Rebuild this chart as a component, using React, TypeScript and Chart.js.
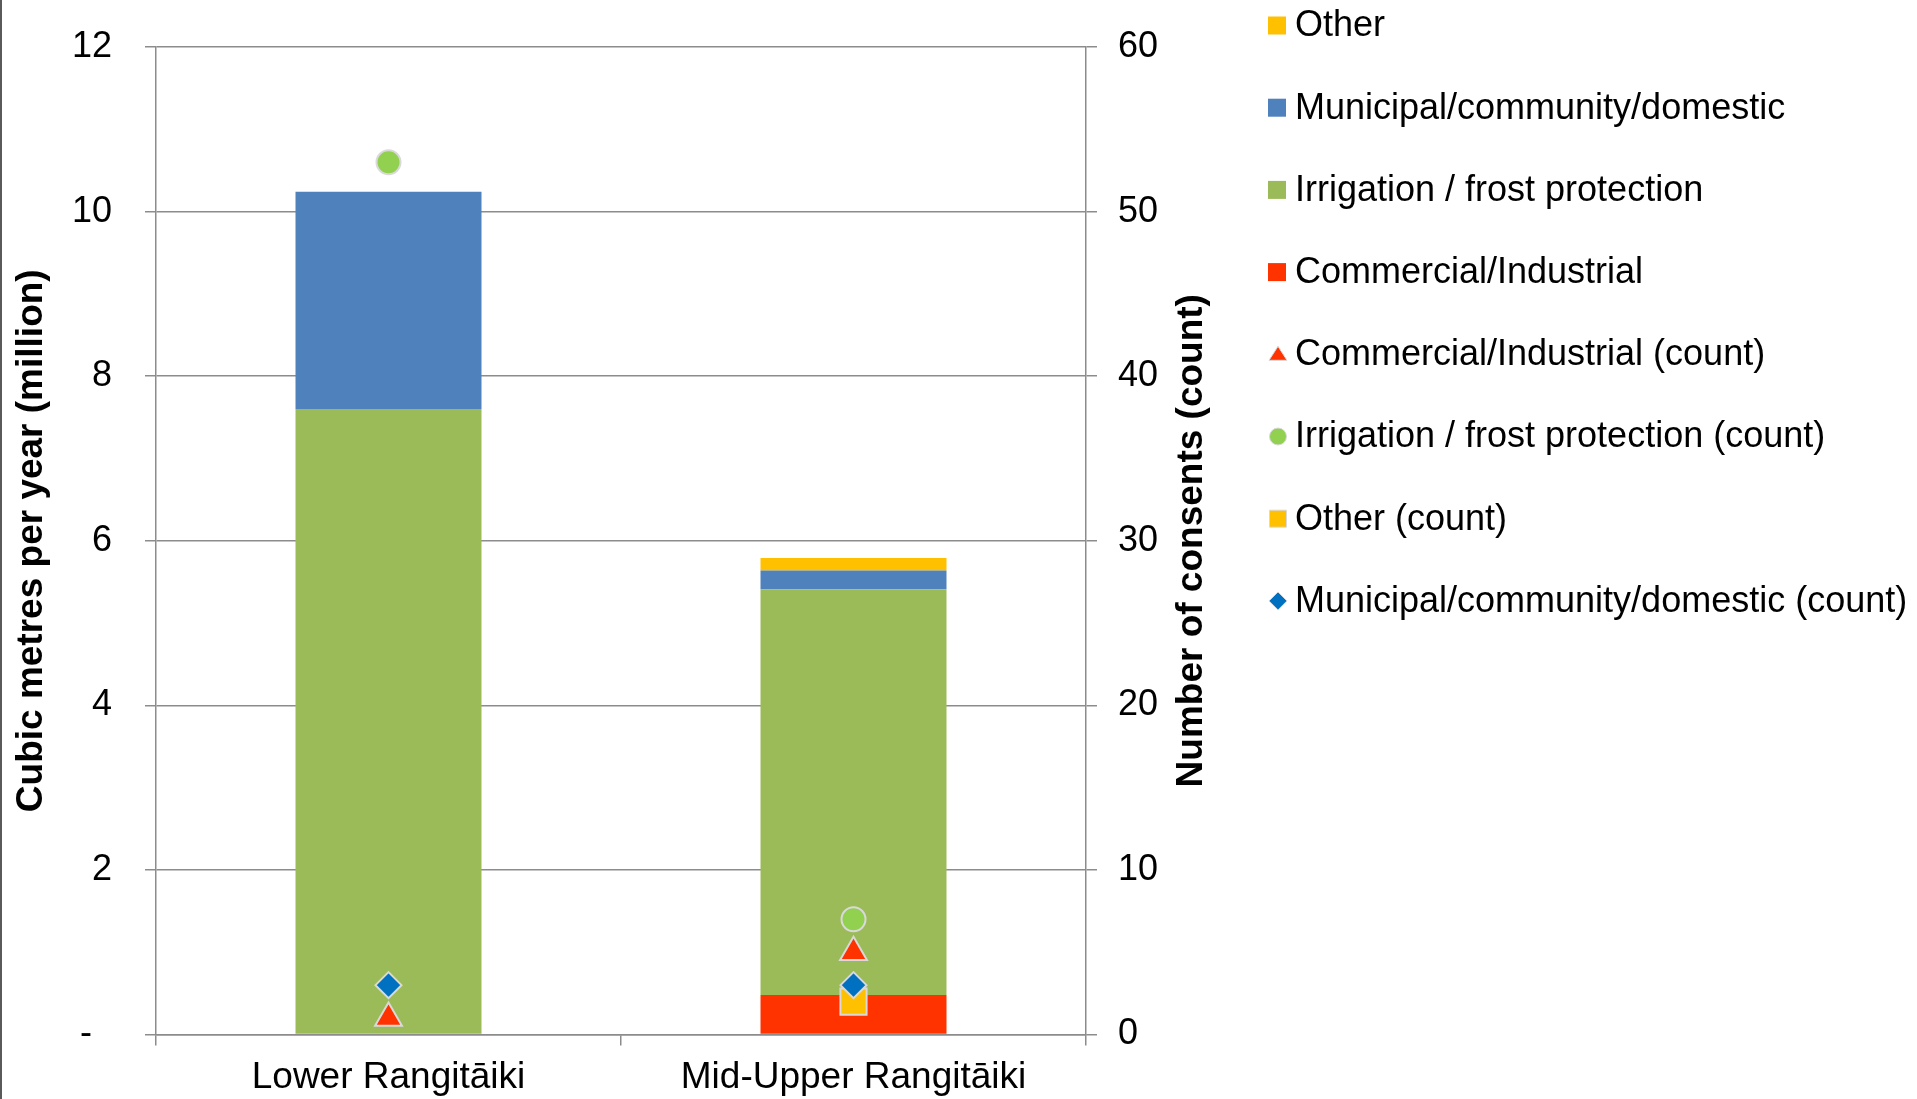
import React, { useEffect, useRef } from 'react';
import { Chart, registerables } from 'chart.js';

Chart.register(...registerables);

const FONT = '"Liberation Sans", Arial, Helvetica, sans-serif';

const regions = ['Lower Rangitāiki', 'Mid-Upper Rangitāiki'];

// Allocated volume, million cubic metres per year
const commercialVolume = [0, 0.48];
const irrigationVolume = [7.6, 4.93];
const municipalVolume = [2.64, 0.23];
const otherVolume = [0, 0.15];

// Number of consents
const commercialCount = [1, 5];
const irrigationCount = [53, 7];
const otherCount: (number | null)[] = [null, 2];
const municipalCount = [3, 3];

const volumeMax = 12;
const volumeStep = 2;
const countMax = 60;
const countStep = 10;

const leftTitle = 'Cubic metres per year (million)';
const rightTitle = 'Number of consents (count)';

// Legend rows, top to bottom, as dataset indexes
const legendOrder = [3, 2, 1, 0, 4, 5, 6, 7];

const GRID = '#8c8c8c';
const MARKER_EDGE = '#d9d9d9';

function drawMarker(ctx: CanvasRenderingContext2D, style: string, x: number, y: number, fill: string) {
  ctx.fillStyle = fill;
  ctx.strokeStyle = MARKER_EDGE;
  ctx.lineWidth = 1;
  ctx.beginPath();
  if (style === 'triangle') {
    ctx.moveTo(x, y - 8);
    ctx.lineTo(x + 9, y + 6);
    ctx.lineTo(x - 9, y + 6);
    ctx.closePath();
    ctx.fill();
    ctx.stroke();
  } else if (style === 'circle') {
    ctx.arc(x, y, 8.5, 0, Math.PI * 2);
    ctx.fill();
    ctx.stroke();
  } else if (style === 'rectRot') {
    ctx.moveTo(x - 9, y);
    ctx.lineTo(x, y - 9);
    ctx.lineTo(x + 9, y);
    ctx.lineTo(x, y + 9);
    ctx.closePath();
    ctx.fill();
    ctx.stroke();
  } else if (style === 'marker-rect') {
    ctx.rect(x - 8.5, y - 8.5, 17, 17);
    ctx.fill();
    ctx.stroke();
  } else {
    ctx.fillRect(x - 9, y - 9, 18, 18);
  }
}

const sideLegend = {
  id: 'sideLegend',
  afterDraw(chart: any) {
    const ctx: CanvasRenderingContext2D = chart.ctx;
    ctx.save();
    ctx.font = `36px ${FONT}`;
    ctx.textBaseline = 'middle';
    ctx.textAlign = 'left';
    legendOrder.forEach((di, row) => {
      const ds = chart.data.datasets[di];
      const cy = 25.5 + row * 82.2;
      if (ds.type === 'line') {
        const style = ds.pointStyle === 'rect' ? 'marker-rect' : ds.pointStyle;
        drawMarker(ctx, style, 1278, cy, ds.pointBackgroundColor);
      } else {
        drawMarker(ctx, 'bar', 1277, cy, ds.backgroundColor);
      }
      ctx.fillStyle = '#000';
      ctx.fillText(ds.label, 1295, cy + 1);
    });
    ctx.restore();
  },
};

// Right-hand axis title, reading bottom to top like the left one
const rightAxisTitle = {
  id: 'rightAxisTitle',
  afterDraw(chart: any) {
    const { ctx, chartArea } = chart;
    ctx.save();
    ctx.translate(1192, (chartArea.top + chartArea.bottom) / 2);
    ctx.rotate(-Math.PI / 2);
    ctx.font = `bold 37px ${FONT}`;
    ctx.fillStyle = '#000';
    ctx.textAlign = 'center';
    ctx.textBaseline = 'middle';
    ctx.fillText(rightTitle, 0, 0);
    ctx.restore();
  },
};

// Frame line along the left edge
const leftFrame = {
  id: 'leftFrame',
  afterDraw(chart: any) {
    const ctx: CanvasRenderingContext2D = chart.ctx;
    ctx.save();
    ctx.fillStyle = '#5a5a5a';
    ctx.fillRect(0, 0, 2, chart.height);
    ctx.restore();
  },
};

function countSeries(label: string, data: (number | null)[], style: string, color: string, radius: number, order: number) {
  return {
    type: 'line' as const,
    label,
    data,
    yAxisID: 'y1',
    showLine: false,
    pointStyle: style,
    pointRadius: radius,
    pointHoverRadius: radius,
    pointBackgroundColor: color,
    pointBorderColor: MARKER_EDGE,
    pointBorderWidth: 2,
    backgroundColor: color,
    borderColor: MARKER_EDGE,
    order,
  };
}

function volumeSeries(label: string, data: number[], color: string) {
  return {
    type: 'bar' as const,
    label,
    data,
    yAxisID: 'y',
    stack: 'volume',
    backgroundColor: color,
    borderWidth: 0,
    barPercentage: 0.4,
    categoryPercentage: 1,
    order: 10,
  };
}

// Fixed axis widths; half-label overhang only, not the tick padding
function fixVertical(width: number) {
  return (s: any) => {
    s.width = width;
    s.paddingTop = 22;
    s.paddingBottom = 22;
  };
}

export default function App() {
  const canvasRef = useRef<HTMLCanvasElement | null>(null);

  useEffect(() => {
    const canvas = canvasRef.current;
    if (!canvas) return;
    document.body.style.margin = '0';

    const chart = new Chart(canvas, {
      type: 'bar',
      data: {
        labels: regions,
        datasets: [
          volumeSeries('Commercial/Industrial', commercialVolume, '#ff3300'),
          volumeSeries('Irrigation / frost protection', irrigationVolume, '#9bbb59'),
          volumeSeries('Municipal/community/domestic', municipalVolume, '#4f81bd'),
          volumeSeries('Other', otherVolume, '#ffc000'),
          countSeries('Commercial/Industrial (count)', commercialCount, 'triangle', '#ff3300', 15.5, 3),
          countSeries('Irrigation / frost protection (count)', irrigationCount, 'circle', '#92d050', 12, 2),
          countSeries('Other (count)', otherCount, 'rect', '#ffc000', 18.5, 1),
          countSeries('Municipal/community/domestic (count)', municipalCount, 'rectRot', '#0070c0', 13, 0),
        ] as any,
      },
      options: {
        animation: false,
        responsive: false,
        events: [],
        layout: { padding: { top: 47, left: 0, right: 0, bottom: 0 } },
        plugins: {
          legend: { display: false },
          tooltip: { enabled: false },
        },
        scales: {
          x: {
            stacked: true,
            offset: true,
            grid: {
              display: true,
              offset: true,
              drawOnChartArea: false,
              drawTicks: true,
              tickLength: 11,
              color: GRID,
              lineWidth: 1.5,
            },
            border: { display: true, color: GRID, width: 1.5 },
            ticks: {
              color: '#000',
              font: { family: FONT, size: 37 },
              padding: 10,
              maxRotation: 0,
            },
            afterFit: (s: any) => {
              s.height = 64.5;
            },
          },
          y: {
            position: 'left',
            stacked: true,
            min: 0,
            max: volumeMax,
            ticks: {
              stepSize: volumeStep,
              color: '#000',
              font: { family: FONT, size: 36 },
              padding: 33,
              callback: (v: any) => (Number(v) === 0 ? '-  ' : String(v)),
            },
            grid: {
              color: GRID,
              lineWidth: 1.5,
              tickLength: 11,
              drawTicks: true,
            },
            border: { display: true, color: GRID, width: 1.5 },
            title: {
              display: true,
              text: leftTitle,
              color: '#000',
              font: { family: FONT, size: 37, weight: 'bold' },
              padding: { top: 10, bottom: 0 },
            },
            afterFit: fixVertical(156),
          },
          y1: {
            position: 'right',
            min: 0,
            max: countMax,
            ticks: {
              stepSize: countStep,
              color: '#000',
              font: { family: FONT, size: 36 },
              padding: 21,
            },
            grid: {
              drawOnChartArea: false,
              drawTicks: true,
              tickLength: 11,
              color: GRID,
              lineWidth: 1.5,
            },
            border: { display: true, color: GRID, width: 1.5 },
            afterFit: fixVertical(1917 - 1086),
          },
        } as any,
      },
      plugins: [sideLegend, rightAxisTitle, leftFrame],
    });

    return () => chart.destroy();
  }, []);

  return (
    <div style={{ position: 'fixed', left: 0, top: 0, width: 1917, height: 1099, background: '#fff' }}>
      <canvas ref={canvasRef} width={1917} height={1099} style={{ display: 'block' }} />
    </div>
  );
}
